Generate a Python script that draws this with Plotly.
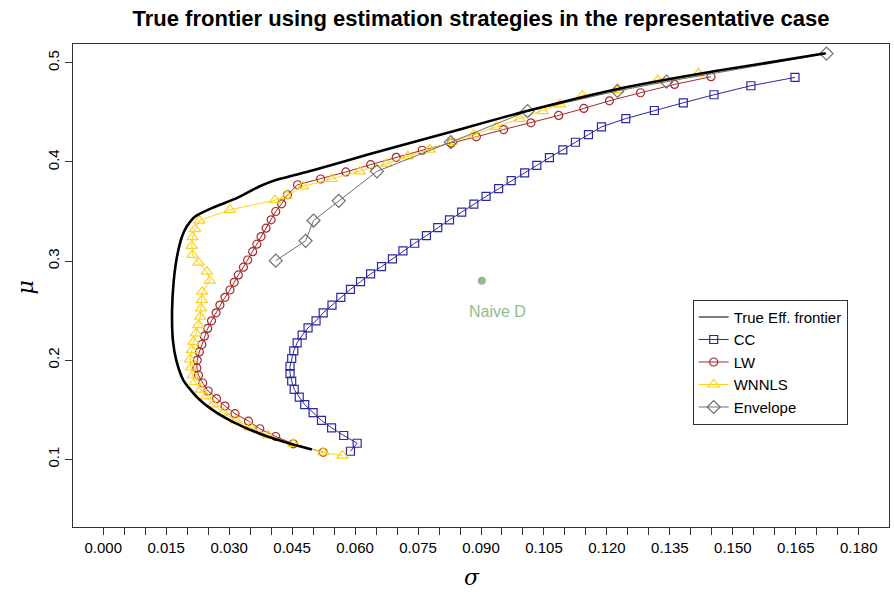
import plotly.graph_objects as go

# ---- data (sigma, mu) ----
frontier_sigma = [0.0497, 0.0452, 0.0373, 0.0310, 0.0262, 0.0223, 0.0191, 0.0174, 0.0166, 0.0164,
                  0.0168, 0.0176, 0.0188, 0.0199, 0.0219, 0.0262, 0.0318, 0.0373, 0.0413, 0.0500,
                  0.0635, 0.0825, 0.1007, 0.1221, 0.1459, 0.1721]
frontier_mu = [0.1100, 0.1150, 0.1258, 0.1375, 0.1493, 0.1628, 0.1797, 0.2000, 0.2200, 0.2500,
               0.2800, 0.3050, 0.3250, 0.3348, 0.3450, 0.3540, 0.3635, 0.3755, 0.3820, 0.3915,
               0.4080, 0.4300, 0.4512, 0.4732, 0.4917, 0.5096]

cc_sigma = [0.0589, 0.0605, 0.0573, 0.0544, 0.0520, 0.0500, 0.0480, 0.0467, 0.0455, 0.0449,
            0.0445, 0.0445, 0.0449, 0.0454, 0.0462, 0.0474, 0.0488, 0.0507, 0.0524, 0.0545,
            0.0566, 0.0589, 0.0613, 0.0637, 0.0663, 0.0689, 0.0714, 0.0742, 0.0770, 0.0797,
            0.0825, 0.0854, 0.0883, 0.0912, 0.0942, 0.0972, 0.1004, 0.1033, 0.1063, 0.1095,
            0.1125, 0.1156, 0.1187, 0.1245, 0.1313, 0.1382, 0.1455, 0.1543, 0.1648]
cc_mu = [0.1081, 0.1162, 0.1240, 0.1318, 0.1392, 0.1470, 0.1551, 0.1628, 0.1706, 0.1790,
         0.1865, 0.1939, 0.2017, 0.2094, 0.2175, 0.2252, 0.2326, 0.2397, 0.2478, 0.2556,
         0.2634, 0.2715, 0.2792, 0.2870, 0.2944, 0.3022, 0.3102, 0.3180, 0.3257, 0.3338,
         0.3416, 0.3494, 0.3575, 0.3652, 0.3730, 0.3811, 0.3889, 0.3966, 0.4044, 0.4122,
         0.4199, 0.4276, 0.4354, 0.4438, 0.4519, 0.4597, 0.4678, 0.4769, 0.4853]

lw_sigma = [0.0524, 0.0453, 0.0411, 0.0373, 0.0346, 0.0314, 0.0290, 0.0270, 0.0250, 0.0237,
            0.0227, 0.0223, 0.0224, 0.0229, 0.0235, 0.0241, 0.0249, 0.0258, 0.0269, 0.0278,
            0.0290, 0.0302, 0.0312, 0.0322, 0.0334, 0.0344, 0.0356, 0.0366, 0.0376, 0.0388,
            0.0400, 0.0411, 0.0425, 0.0439, 0.0463, 0.0518, 0.0578, 0.0637, 0.0698, 0.0760,
            0.0829, 0.0889, 0.0954, 0.1019, 0.1085, 0.1145, 0.1206, 0.1280, 0.1361, 0.1448]
lw_mu = [0.1071, 0.1156, 0.1230, 0.1308, 0.1385, 0.1460, 0.1537, 0.1612, 0.1689, 0.1770,
         0.1848, 0.1922, 0.1999, 0.2083, 0.2158, 0.2242, 0.2320, 0.2397, 0.2478, 0.2556,
         0.2634, 0.2708, 0.2786, 0.2860, 0.2938, 0.3011, 0.3095, 0.3170, 0.3247, 0.3332,
         0.3416, 0.3500, 0.3578, 0.3669, 0.3770, 0.3828, 0.3899, 0.3973, 0.4047, 0.4118,
         0.4192, 0.4253, 0.4327, 0.4395, 0.4469, 0.4540, 0.4617, 0.4698, 0.4782, 0.4860]

wnnls_sigma = [0.0570, 0.0524, 0.0453, 0.0393, 0.0350, 0.0316, 0.0286, 0.0262, 0.0245, 0.0232,
               0.0219, 0.0213, 0.0209, 0.0207, 0.0211, 0.0215, 0.0221, 0.0227, 0.0231, 0.0233,
               0.0235, 0.0236, 0.0254, 0.0247, 0.0227, 0.0213, 0.0211, 0.0213, 0.0219, 0.0229,
               0.0302, 0.0409, 0.0437, 0.0476, 0.0544, 0.0611, 0.0675, 0.0726, 0.0778, 0.0830,
               0.0883, 0.0936, 0.0992, 0.1047, 0.1088, 0.1141, 0.1225, 0.1321, 0.1418]
wnnls_mu = [0.1038, 0.1071, 0.1156, 0.1240, 0.1324, 0.1392, 0.1470, 0.1554, 0.1635, 0.1703,
            0.1780, 0.1848, 0.1926, 0.2007, 0.2101, 0.2185, 0.2270, 0.2354, 0.2438, 0.2523,
            0.2607, 0.2691, 0.2802, 0.2893, 0.2984, 0.3062, 0.3153, 0.3241, 0.3322, 0.3409,
            0.3517, 0.3614, 0.3659, 0.3753, 0.3828, 0.3905, 0.3983, 0.4057, 0.4125, 0.4200,
            0.4276, 0.4354, 0.4435, 0.4512, 0.4580, 0.4671, 0.4725, 0.4826, 0.4894]

env_sigma = [0.0411, 0.0482, 0.0501, 0.0561, 0.0652, 0.0828, 0.1011, 0.1225, 0.1342, 0.1723]
env_mu = [0.3004, 0.3204, 0.3409, 0.3608, 0.3905, 0.4200, 0.4512, 0.4717, 0.4810, 0.5093]

naive_sigma = [0.0902]
naive_mu = [0.2802]
naive_label = "Naive D"

x_tick_values = [0.000, 0.015, 0.030, 0.045, 0.060, 0.075, 0.090, 0.105, 0.120, 0.135, 0.150, 0.165, 0.180]
x_tick_labels = ["0.000", "0.015", "0.030", "0.045", "0.060", "0.075", "0.090",
                 "0.105", "0.120", "0.135", "0.150", "0.165", "0.180"]
x_minor_values = [0.005, 0.010, 0.020, 0.025, 0.035, 0.040, 0.050, 0.055, 0.065, 0.070,
                  0.080, 0.085, 0.095, 0.100, 0.110, 0.115, 0.125, 0.130, 0.140, 0.145,
                  0.155, 0.160, 0.170, 0.175]
y_tick_values = [0.1, 0.2, 0.3, 0.4, 0.5]
y_tick_labels = ["0.1", "0.2", "0.3", "0.4", "0.5"]

FONT = "Liberation Sans, Arial, sans-serif"
C_CC = "#2a2aa0"
C_LW = "#a52a2a"
C_WN = "#ffd21a"
C_ENV = "#707070"
C_NAIVE = "#8fbc8f"

fig = go.Figure()

# legend-only entry (thin line as in the reference legend)
fig.add_trace(go.Scatter(x=[None], y=[None], mode="lines", name="True Eff. frontier", legendrank=1,
                         line=dict(color="black", width=1)))
fig.add_trace(go.Scatter(x=cc_sigma, y=cc_mu, mode="lines+markers", name="CC", legendrank=2,
                         line=dict(color=C_CC, width=1),
                         marker=dict(symbol="square-open", size=8, color=C_CC, line=dict(width=1.2))))
fig.add_trace(go.Scatter(x=lw_sigma, y=lw_mu, mode="lines+markers", name="LW", legendrank=3,
                         line=dict(color=C_LW, width=1),
                         marker=dict(symbol="circle-open", size=8, color=C_LW, line=dict(width=1.2))))
fig.add_trace(go.Scatter(x=wnnls_sigma, y=wnnls_mu, mode="lines+markers", name="WNNLS", legendrank=4,
                         line=dict(color=C_WN, width=1),
                         marker=dict(symbol="triangle-up-open", size=10, color=C_WN, line=dict(width=1.2))))
fig.add_trace(go.Scatter(x=env_sigma, y=env_mu, mode="lines+markers", name="Envelope", legendrank=5,
                         line=dict(color=C_ENV, width=1),
                         marker=dict(symbol="diamond-open", size=10, color=C_ENV, line=dict(width=1.2))))
fig.add_trace(go.Scatter(x=frontier_sigma, y=frontier_mu, mode="lines", name="True Eff. frontier",
                         showlegend=False,
                         line=dict(color="black", width=2.6, shape="spline", smoothing=0.6)))
fig.add_trace(go.Scatter(x=naive_sigma, y=naive_mu, mode="markers", showlegend=False,
                         marker=dict(symbol="circle", size=8, color=C_NAIVE)))

fig.add_annotation(x=naive_sigma[0] + 0.0037, y=naive_mu[0], text=naive_label, showarrow=False,
                   yshift=-31, font=dict(family=FONT, size=16, color=C_NAIVE))

fig.add_annotation(xref="paper", yref="paper", x=0.4895, y=-0.105, yanchor="middle", text="<i>σ</i>",
                   showarrow=False, font=dict(family="DejaVu Serif, serif", size=22, color="black"))
fig.add_annotation(xref="paper", yref="paper", x=-0.058, xanchor="center", y=0.495, text="<i>μ</i>",
                   showarrow=False, textangle=-90,
                   font=dict(family="DejaVu Serif, serif", size=22, color="black"))

fig.update_layout(
    width=894, height=592,
    margin=dict(l=73, r=5, t=44, b=65, autoexpand=False),
    paper_bgcolor="white", plot_bgcolor="white",
    title=dict(text="<b>True frontier using estimation strategies in the representative case</b>",
               x=0.5, xref="paper", xanchor="center", y=0.9696, yanchor="middle", yref="container",
               font=dict(family=FONT, size=22, color="black")),
    font=dict(family=FONT, size=15, color="black"),
    showlegend=True,
    legend=dict(x=0.7594, y=0.4705, xanchor="left", yanchor="top",
                bgcolor="white", bordercolor="#333333", borderwidth=1,
                font=dict(family=FONT, size=15, color="black"),
                tracegroupgap=0, itemwidth=30),
)

fig.update_xaxes(range=[-0.0072, 0.1872], tickmode="array", tickvals=x_tick_values, ticktext=x_tick_labels,
                 ticks="outside", ticklen=7, tickcolor="#333333", tickwidth=1, automargin=False,
                 minor=dict(tickmode="array", tickvals=x_minor_values, ticks="outside", ticklen=7,
                            tickcolor="#333333", tickwidth=1, showgrid=False),
                 showgrid=False, zeroline=False, showline=True, mirror=True,
                 linecolor="#333333", linewidth=1, tickfont=dict(family=FONT, size=15))
fig.update_yaxes(range=[0.0317, 0.519], tickmode="array", tickvals=y_tick_values, ticktext=y_tick_labels,
                 ticks="outside", ticklen=7, tickcolor="#333333", tickwidth=1, tickangle=-90,
                 automargin=False,
                 showgrid=False, zeroline=False, showline=True, mirror=True,
                 linecolor="#333333", linewidth=1, tickfont=dict(family=FONT, size=15))

fig.write_html("out.html", config={"displayModeBar": False},
               post_script="document.body.style.margin='0';document.body.style.padding='0';")
